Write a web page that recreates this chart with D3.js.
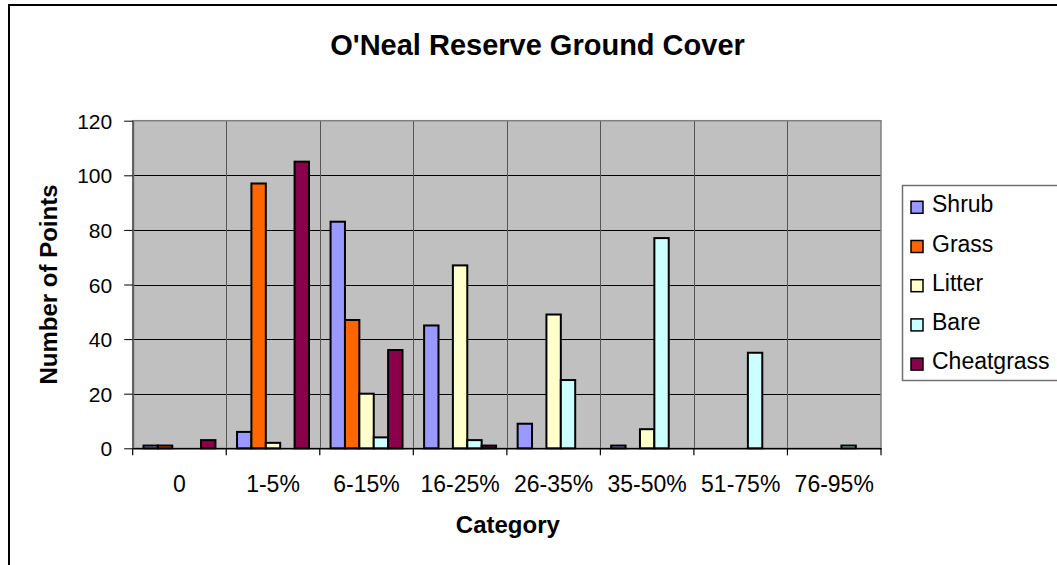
<!DOCTYPE html>
<html>
<head>
<meta charset="utf-8">
<script src="https://cdn.jsdelivr.net/npm/d3@7/dist/d3.min.js"></script>
<style>
  html, body { margin: 0; padding: 0; background: #ffffff; }
  svg { display: block; }
  text { font-family: Arial, "Liberation Sans", sans-serif; fill: #000; }
</style>
</head>
<body>
<svg id="chart" width="1057" height="565"></svg>
<script>
// Cover classes along the category axis
const categories = ["0", "1-5%", "6-15%", "16-25%", "26-35%", "35-50%", "51-75%", "76-95%"];

// Point counts per cover class, one array per ground cover type
const shrub      = [1, 6, 83, 45, 9, 1, 0, 0];
const grass      = [1, 97, 47, 0, 0, 0, 0, 0];
const litter     = [0, 2, 20, 67, 49, 7, 0, 0];
const bare       = [0, 0, 4, 3, 25, 77, 35, 1];
const cheatgrass = [3, 105, 36, 1, 0, 0, 0, 0];

const seriesNames  = ["Shrub", "Grass", "Litter", "Bare", "Cheatgrass"];
const seriesValues = [shrub, grass, litter, bare, cheatgrass];
const seriesColors = ["#9999FF", "#FF6600", "#FFFFCC", "#CCFFFF", "#8B004B"];

const yTicks = [0, 20, 40, 60, 80, 100, 120];

const titleText = "O'Neal Reserve Ground Cover";
const xTitle = "Category";
const yTitle = "Number of Points";

const svg = d3.select("#chart");

// Outer chart frame
svg.append("rect")
  .attr("x", 9).attr("y", 5)
  .attr("width", 1100).attr("height", 600)
  .attr("fill", "#fff")
  .attr("stroke", "#000").attr("stroke-width", 2);

const plot = { left: 132.7, right: 881, top: 120.7, bottom: 448.3 };

const x = d3.scaleBand()
  .domain(categories)
  .range([plot.left, plot.right])
  .paddingInner(0).paddingOuter(0);

const xs = d3.scaleBand()
  .domain(seriesNames)
  .range([0, x.bandwidth()])
  .paddingInner(0).paddingOuter(0.75);

const y = d3.scaleLinear()
  .domain([0, 120])
  .range([plot.bottom, plot.top]);

// Plot area background
svg.append("rect")
  .attr("x", plot.left).attr("y", plot.top)
  .attr("width", plot.right - plot.left)
  .attr("height", plot.bottom - plot.top)
  .attr("fill", "#C0C0C0");

// Horizontal gridlines
svg.append("g")
  .selectAll("line")
  .data(yTicks.filter(v => v > 0 && v < 120))
  .join("line")
  .attr("x1", plot.left).attr("x2", plot.right)
  .attr("y1", d => Math.round(y(d)) + 0.5).attr("y2", d => Math.round(y(d)) + 0.5)
  .attr("stroke", "#000").attr("stroke-width", 1);

// Vertical gridlines at category boundaries
svg.append("g")
  .selectAll("line")
  .data(categories.slice(1))
  .join("line")
  .attr("x1", d => Math.round(x(d)) + 0.5).attr("x2", d => Math.round(x(d)) + 0.5)
  .attr("y1", plot.top).attr("y2", plot.bottom)
  .attr("stroke", "#555").attr("stroke-width", 1);

// Plot area border
svg.append("rect")
  .attr("x", plot.left).attr("y", plot.top)
  .attr("width", plot.right - plot.left)
  .attr("height", plot.bottom - plot.top)
  .attr("fill", "none")
  .attr("stroke", "#808080").attr("stroke-width", 1.5);

// Bars
const barData = [];
seriesNames.forEach((name, si) => {
  categories.forEach((cat, ci) => {
    const v = seriesValues[si][ci];
    if (v > 0) barData.push({ name, cat, v, color: seriesColors[si] });
  });
});

svg.append("g")
  .selectAll("rect")
  .data(barData)
  .join("rect")
  .attr("x", d => x(d.cat) + xs(d.name))
  .attr("y", d => y(d.v))
  .attr("width", xs.bandwidth())
  .attr("height", d => y(0) - y(d.v))
  .attr("fill", d => d.color)
  .attr("stroke", "#000").attr("stroke-width", 2);

// Y axis
const yAxis = svg.append("g")
  .attr("transform", `translate(${plot.left},0)`)
  .call(d3.axisLeft(y).tickValues(yTicks).tickSize(8.5).tickPadding(12).tickSizeOuter(0));
yAxis.select(".domain").attr("stroke", "#606060").attr("stroke-width", 2);
yAxis.selectAll(".tick line").attr("stroke", "#000").attr("stroke-width", 1);
yAxis.selectAll("text")
  .style("font-size", "21px")
  .attr("dy", "0.36em");

// X axis: labels at category centres
const xAxis = svg.append("g")
  .attr("transform", `translate(0,${plot.bottom})`)
  .call(d3.axisBottom(x).tickSize(0).tickPadding(27.5).tickSizeOuter(0));
xAxis.select(".domain").attr("stroke", "#000").attr("stroke-width", 1.5);
xAxis.selectAll("text").style("font-size", "23px");

// X axis tick marks at category boundaries
const bounds = categories.map(c => x(c)).concat([plot.right]);
svg.append("g")
  .selectAll("line")
  .data(bounds)
  .join("line")
  .attr("x1", d => d).attr("x2", d => d)
  .attr("y1", plot.bottom).attr("y2", plot.bottom + 7)
  .attr("stroke", "#000").attr("stroke-width", 1.2);

// Titles
svg.append("text")
  .attr("x", 537.5).attr("y", 54.5)
  .attr("text-anchor", "middle")
  .style("font-size", "29px").style("font-weight", "bold")
  .text(titleText);

svg.append("text")
  .attr("x", (plot.left + plot.right) / 2 + 1).attr("y", 532.7)
  .attr("text-anchor", "middle")
  .style("font-size", "24px").style("font-weight", "bold")
  .text(xTitle);

svg.append("text")
  .attr("transform", `translate(56.7,${(plot.top + plot.bottom) / 2}) rotate(-90)`)
  .attr("text-anchor", "middle")
  .style("font-size", "24px").style("font-weight", "bold")
  .text(yTitle);

// Legend
const legend = svg.append("g");
legend.append("rect")
  .attr("x", 902.5).attr("y", 185.5)
  .attr("width", 200).attr("height", 195)
  .attr("fill", "#fff")
  .attr("stroke", "#707070").attr("stroke-width", 1.5);

const items = legend.selectAll("g.item")
  .data(seriesNames.map((n, i) => ({ n, c: seriesColors[i], i })))
  .join("g")
  .attr("class", "item")
  .attr("transform", d => `translate(0,${212.3 + d.i * 39.2})`);

items.append("rect")
  .attr("x", 911).attr("y", -11)
  .attr("width", 12).attr("height", 12)
  .attr("fill", d => d.c)
  .attr("stroke", "#000").attr("stroke-width", 1.5);

items.append("text")
  .attr("x", 932).attr("y", 0)
  .style("font-size", "23px")
  .text(d => d.n);
</script>
</body>
</html>
